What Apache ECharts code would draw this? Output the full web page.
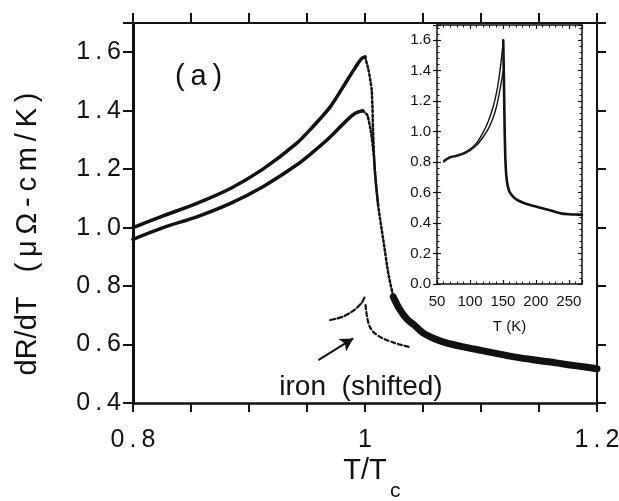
<!DOCTYPE html>
<html>
<head>
<meta charset="utf-8">
<script src="https://cdn.jsdelivr.net/npm/echarts@6/dist/echarts.min.js"></script>
<style>
html,body{margin:0;padding:0;background:#fff;}
#chart{width:619px;height:501px;}
</style>
</head>
<body>
<div id="chart"></div>
<script>
// ---------- tick labels ----------
const mainXLabels = ['0.8', '1', '1.2'];
const mainYLabels = ['0.4', '0.6', '0.8', '1.0', '1.2', '1.4', '1.6'];
const insetXLabels = ['50', '100', '150', '200', '250'];
const insetYLabels = ['0.0', '0.2', '0.4', '0.6', '0.8', '1.0', '1.2', '1.4', '1.6'];

// ---------- main panel data (T/Tc, dR/dT) ----------
const upperX = [0.800, 0.826, 0.855, 0.884, 0.912, 0.941, 0.955, 0.970, 0.984, 0.992, 0.997, 1.000];
const upperY = [1.000, 1.040, 1.083, 1.134, 1.200, 1.288, 1.345, 1.413, 1.500, 1.550, 1.578, 1.584];
const lowerX = [0.800, 0.826, 0.855, 0.884, 0.912, 0.941, 0.955, 0.970, 0.984, 0.992, 0.998];
const lowerY = [0.960, 1.000, 1.037, 1.083, 1.140, 1.214, 1.258, 1.310, 1.366, 1.392, 1.400];
const dropUpperX = [1.000, 1.003, 1.0058, 1.0072, 1.0086, 1.0115, 1.0158, 1.0201, 1.0244];
const dropUpperY = [1.584, 1.540, 1.470, 1.300, 1.185, 1.071, 0.957, 0.843, 0.763];
const dropLowerX = [0.998, 1.002, 1.005, 1.0075, 1.0095, 1.0115];
const dropLowerY = [1.400, 1.385, 1.330, 1.250, 1.150, 1.071];
const tailX = [1.0244, 1.030, 1.036, 1.042, 1.050, 1.060, 1.070, 1.085, 1.100, 1.115, 1.130, 1.145, 1.160, 1.175, 1.190, 1.200];
const tailY = [0.763, 0.720, 0.688, 0.668, 0.640, 0.620, 0.606, 0.592, 0.580, 0.568, 0.557, 0.548, 0.540, 0.531, 0.523, 0.517];
const ironRiseX = [0.970, 0.980, 0.990, 0.997, 1.000];
const ironRiseY = [0.684, 0.694, 0.716, 0.742, 0.765];
const ironFallX = [1.0005, 1.001, 1.002, 1.004, 1.008, 1.015, 1.025, 1.033, 1.040];
const ironFallY = [0.735, 0.715, 0.690, 0.662, 0.640, 0.622, 0.606, 0.597, 0.590];
const arrowFrom = [0.9597, 0.547];
const arrowTo = [0.9899, 0.621];

// ---------- inset data (T in K, dR/dT) ----------
const insetUpperT = [60, 65, 70, 80, 90, 100, 110, 120, 128, 135, 140, 144, 147, 149, 150.5];
const insetUpperV = [0.81, 0.825, 0.835, 0.845, 0.86, 0.885, 0.925, 0.995, 1.07, 1.16, 1.25, 1.35, 1.45, 1.53, 1.60];
const insetLowerT = [60, 70, 80, 90, 100, 110, 120, 128, 135, 140, 144, 147, 149, 150.5, 151.5];
const insetLowerV = [0.80, 0.828, 0.838, 0.852, 0.875, 0.91, 0.965, 1.02, 1.09, 1.16, 1.24, 1.31, 1.36, 1.40, 1.35];
const insetTailT = [150.5, 151.5, 152.5, 153.5, 155, 157, 160, 165, 172, 180, 190, 200, 210, 220, 230, 240, 250, 260, 270];
const insetTailV = [1.60, 1.35, 1.05, 0.85, 0.72, 0.65, 0.605, 0.575, 0.55, 0.535, 0.52, 0.508, 0.497, 0.485, 0.472, 0.462, 0.458, 0.456, 0.455];

// ---------- helpers ----------
const zip = (xs, ys) => xs.map((x, i) => [x, ys[i]]);
const TS = '\u2009';
const spaced = s => s.split('').join(TS);
const INK = '#111';
const FONT = 'Liberation Sans, Arial, Helvetica, sans-serif';

function fmtMainX(v) { const s = String(+v.toFixed(3)); return mainXLabels.includes(s) ? spaced(s) : ''; }
function fmtMainY(v) { const s = v.toFixed(1); return mainYLabels.includes(s) ? spaced(s) : ''; }
function fmtInsetX(v) { const s = String(Math.round(v)); return insetXLabels.includes(s) ? s : ''; }
function fmtInsetY(v) { const s = v.toFixed(1); return insetYLabels.includes(s) ? s : ''; }

const noSplit = { show: false };
function lineSeries(data, width, xi, yi, type, smooth) {
  return {
    type: 'line', data: data, xAxisIndex: xi, yAxisIndex: yi,
    showSymbol: false, symbol: 'none', smooth: smooth === undefined ? 0.3 : smooth,
    lineStyle: { color: INK, width: width, type: type || 'solid', cap: 'round', join: 'round' },
    silent: true, z: 3
  };
}

const chart = echarts.init(document.getElementById('chart'), null, { renderer: 'canvas' });

const option = {
  animation: false,
  backgroundColor: '#fff',
  textStyle: { fontFamily: FONT, color: INK },
  grid: [
    { left: 133, top: 23, width: 464, height: 380, containLabel: false, outerBoundsMode: 'none' },
    { left: 437, top: 25, width: 145, height: 259, containLabel: false, outerBoundsMode: 'none' }
  ],
  xAxis: [
    { // main bottom
      gridIndex: 0, type: 'value', position: 'bottom', min: 0.8, max: 1.2, interval: 0.05,
      axisLine: { show: true, onZero: false, lineStyle: { color: INK, width: 2.5 } },
      axisTick: { show: true, inside: false, length: 9, lineStyle: { color: INK, width: 2 } },
      axisLabel: { formatter: fmtMainX, fontSize: 25, color: INK, margin: 25, fontFamily: FONT, showMinLabel: true, showMaxLabel: true },
      splitLine: noSplit
    },
    { // main top
      gridIndex: 0, type: 'value', position: 'top', min: 0.8, max: 1.2, interval: 0.05,
      axisLine: { show: true, onZero: false, lineStyle: { color: INK, width: 2 } },
      axisTick: { show: true, inside: false, length: 10, lineStyle: { color: INK, width: 2 } },
      axisLabel: { show: false }, splitLine: noSplit
    },
    { // inset bottom
      gridIndex: 1, type: 'value', position: 'bottom', min: 50, max: 270, interval: 50,
      axisLine: { show: true, onZero: false, lineStyle: { color: INK, width: 1.5 } },
      axisTick: { show: true, inside: true, length: 4, lineStyle: { color: INK, width: 1.2 } },
      minorTick: { show: true, splitNumber: 5, length: 2.5, lineStyle: { color: INK, width: 1 } },
      axisLabel: { formatter: fmtInsetX, fontSize: 15, color: INK, margin: 10, fontFamily: FONT },
      splitLine: noSplit, minorSplitLine: noSplit,
      name: 'T (K)', nameLocation: 'middle', nameGap: 35,
      nameTextStyle: { fontSize: 15, color: INK, fontFamily: FONT }
    },
    { // inset top
      gridIndex: 1, type: 'value', position: 'top', min: 50, max: 270, interval: 50,
      axisLine: { show: true, onZero: false, lineStyle: { color: INK, width: 1.5 } },
      axisTick: { show: true, inside: true, length: 4, lineStyle: { color: INK, width: 1.2 } },
      minorTick: { show: true, splitNumber: 5, length: 2.5, lineStyle: { color: INK, width: 1 } },
      axisLabel: { show: false }, splitLine: noSplit, minorSplitLine: noSplit
    }
  ],
  yAxis: [
    { // main left
      gridIndex: 0, type: 'value', position: 'left', min: 0.4, max: 1.7, interval: 0.2,
      axisLine: { show: true, onZero: false, lineStyle: { color: INK, width: 3 } },
      axisTick: { show: true, inside: false, length: 10, lineStyle: { color: INK, width: 2 } },
      axisLabel: { formatter: fmtMainY, fontSize: 25, color: INK, margin: 12, fontFamily: FONT },
      splitLine: noSplit,
      name: 'dR/dT   (' + TS + 'μ' + TS + 'Ω' + TS + '-' + TS + 'c' + TS + 'm' + TS + '/' + TS + 'K' + TS + ')',
      nameLocation: 'middle', nameRotate: 90, nameGap: 91,
      nameTextStyle: { fontSize: 29, color: INK, fontFamily: FONT, padding: [0, 42, 0, 0] }
    },
    { // main right
      gridIndex: 0, type: 'value', position: 'right', min: 0.4, max: 1.7, interval: 0.2,
      axisLine: { show: true, onZero: false, lineStyle: { color: INK, width: 2 } },
      axisTick: { show: true, inside: false, length: 9, lineStyle: { color: INK, width: 2 } },
      axisLabel: { show: false }, splitLine: noSplit
    },
    { // inset left (labels, outward ticks)
      gridIndex: 1, type: 'value', position: 'left', min: 0, max: 1.7, interval: 0.2,
      axisLine: { show: true, onZero: false, lineStyle: { color: INK, width: 1.5 } },
      axisTick: { show: true, inside: false, length: 4, lineStyle: { color: INK, width: 1.2 } },
      axisLabel: { formatter: fmtInsetY, fontSize: 15, color: INK, margin: 6, fontFamily: FONT },
      splitLine: noSplit
    },
    { // inset left (inner minor ticks)
      gridIndex: 1, type: 'value', position: 'left', min: 0, max: 1.7, interval: 0.2,
      axisLine: { show: false },
      axisTick: { show: true, inside: true, length: 4, lineStyle: { color: INK, width: 1.2 } },
      minorTick: { show: true, splitNumber: 5, length: 2.5, lineStyle: { color: INK, width: 1 } },
      axisLabel: { show: false }, splitLine: noSplit, minorSplitLine: noSplit
    },
    { // inset right
      gridIndex: 1, type: 'value', position: 'right', min: 0, max: 1.7, interval: 0.2,
      axisLine: { show: true, onZero: false, lineStyle: { color: INK, width: 1.5 } },
      axisTick: { show: true, inside: true, length: 4, lineStyle: { color: INK, width: 1.2 } },
      minorTick: { show: true, splitNumber: 5, length: 2.5, lineStyle: { color: INK, width: 1 } },
      axisLabel: { show: false }, splitLine: noSplit, minorSplitLine: noSplit
    }
  ],
  series: [
    lineSeries(zip(upperX, upperY), 3.5, 0, 0),
    lineSeries(zip(lowerX, lowerY), 3.5, 0, 0),
    lineSeries(zip(dropUpperX, dropUpperY), 2.5, 0, 0, [2, 2.5], 0.2),
    lineSeries(zip(dropLowerX, dropLowerY), 2.5, 0, 0, [2, 2.5], 0.2),
    lineSeries(zip(tailX, tailY), 7, 0, 0),
    lineSeries(zip(ironRiseX, ironRiseY), 2.2, 0, 0, [5, 2.5]),
    Object.assign(lineSeries(zip(ironFallX, ironFallY), 2.2, 0, 0, [4, 3]), {
      markLine: {
        silent: true, animation: false,
        symbol: ['none', 'arrow'], symbolSize: [11, 13],
        lineStyle: { color: INK, width: 2, type: 'solid' },
        label: { show: false },
        data: [[{ coord: arrowFrom }, { coord: arrowTo }]]
      }
    }),
    lineSeries(zip(insetUpperT, insetUpperV), 1.4, 2, 2, 'solid', 0.2),
    lineSeries(zip(insetLowerT, insetLowerV), 1.4, 2, 2, 'solid', 0.2),
    lineSeries(zip(insetTailT, insetTailV), 2.6, 2, 2, 'solid', 0.2)
  ],
  graphic: [
    { type: 'text', left: 175, top: 62, silent: true,
      style: { text: '(' + TS + 'a' + TS + ')', font: '29px ' + FONT, fill: INK } },
    { type: 'text', x: 361, y: 387, silent: true,
      style: { text: 'iron  (shifted)', font: '28px ' + FONT, fill: INK, align: 'center', verticalAlign: 'middle' } },
    { type: 'text', x: 365, y: 471, silent: true,
      style: { text: 'T/T', font: '29px ' + FONT, fill: INK, align: 'center', verticalAlign: 'middle' } },
    { type: 'text', x: 390, y: 491, silent: true,
      style: { text: 'c', font: '21px ' + FONT, fill: INK, align: 'left', verticalAlign: 'middle' } }
  ]
};
chart.setOption(option);
</script>
</body>
</html>
